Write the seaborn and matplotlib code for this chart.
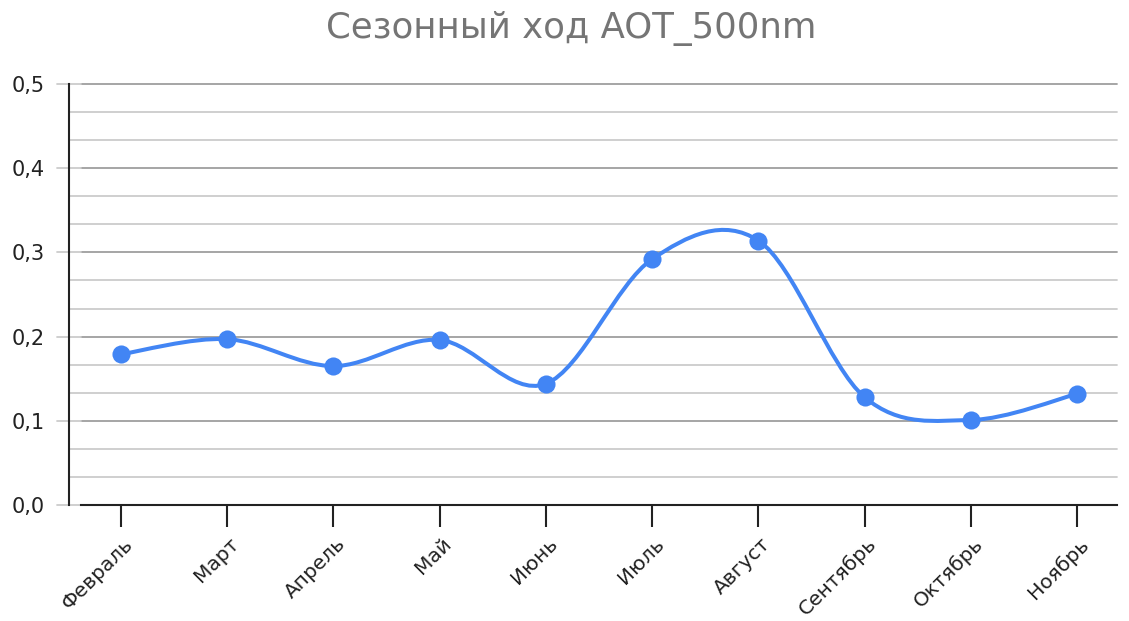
import numpy as np
import matplotlib
matplotlib.use("Agg")
import matplotlib.pyplot as plt
import matplotlib.transforms as mtransforms
from matplotlib.path import Path
from matplotlib.patches import PathPatch
import seaborn as sns
import pandas as pd

months = ["Февраль", "Март", "Апрель", "Май", "Июнь", "Июль", "Август",
          "Сентябрь", "Октябрь", "Ноябрь"]
aot_500 = [0.179, 0.197, 0.165, 0.196, 0.144, 0.292, 0.314, 0.128, 0.101, 0.132]
y_ticks = [0.0, 0.1, 0.2, 0.3, 0.4, 0.5]
y_tick_labels = ["0,0", "0,1", "0,2", "0,3", "0,4", "0,5"]
title = "Сезонный ход AOT_500nm"

sns.set_theme(style="white")
plt.rcParams['font.family'] = ['DejaVu Sans']

W, H, DPI = 1129, 621, 100
PX = 72.0 / DPI  # points per pixel
fig = plt.figure(figsize=(W / DPI, H / DPI), dpi=DPI)
ax_w = 1117 - 81
ax = fig.add_axes([81 / W, (H - 505) / H, ax_w / W, (505 - 84) / H])

df = pd.DataFrame({"month": months, "aot": aot_500})
xs = np.arange(len(months), dtype=float)
ys = np.array(aot_500, dtype=float)
color = "#4285F4"

# smooth curve (Catmull-Rom as cubic Bezier segments through the data points)
verts = [(xs[0], ys[0])]
codes = [Path.MOVETO]
n = len(xs)
for i in range(n - 1):
    p0 = np.array([xs[max(i - 1, 0)], ys[max(i - 1, 0)]])
    p1 = np.array([xs[i], ys[i]])
    p2 = np.array([xs[i + 1], ys[i + 1]])
    p3 = np.array([xs[min(i + 2, n - 1)], ys[min(i + 2, n - 1)]])
    c1 = p1 + (p2 - p0) / 6.0
    c2 = p2 - (p3 - p1) / 6.0
    verts += [tuple(c1), tuple(c2), tuple(p2)]
    codes += [Path.CURVE4] * 3
ax.add_patch(PathPatch(Path(verts, codes), facecolor="none", edgecolor=color,
                       lw=2.9, capstyle="round", joinstyle="round", zorder=3))

sns.scatterplot(data=df, x=xs, y="aot", ax=ax, color=color, s=170,
                edgecolor=color, linewidth=0, zorder=4, legend=False)

ax.set_xlim(-0.375, n - 1 + 0.375)
ax.set_ylim(0, 0.5)

# gridlines (major darker inside plot, light where they extend to the left)
trans = ax.get_yaxis_transform()
lx = -24.0 / ax_w
for v in y_ticks:
    ax.plot([0, 1], [v, v], color="#9e9e9e", lw=1.3, zorder=1, transform=trans,
            clip_on=False)
    ax.plot([lx, 0], [v, v], color="#cccccc", lw=1.3, zorder=1, transform=trans,
            clip_on=False)
minor = [v + k * 0.1 / 3 for v in y_ticks[:-1] for k in (1, 2)]
for v in minor:
    ax.plot([-12.0 / ax_w, 1], [v, v], color="#cccccc", lw=1.3, zorder=1,
            transform=trans, clip_on=False)

ax.set_yticks(y_ticks)
ax.set_yticklabels(y_tick_labels)
ax.tick_params(axis="y", which="major", length=0, labelsize=15,
               pad=24 * PX, labelcolor="#222222", left=False)

ax.set_xticks(xs)
ax.set_xticklabels(months, rotation=45, ha="right", va="center",
                   rotation_mode="anchor")
ax.tick_params(axis="x", which="major", length=22 * PX, width=1.5,
               color="#222222", labelsize=14.5, pad=14 * PX, labelcolor="#222222",
               bottom=True)
offset = mtransforms.ScaledTranslation(9 / DPI, 0, fig.dpi_scale_trans)
for lab in ax.get_xticklabels():
    lab.set_transform(lab.get_transform() + offset)
ax.set_xlabel("")
ax.set_ylabel("")

for s in ["top", "right"]:
    ax.spines[s].set_visible(False)
ax.spines["bottom"].set_color("#222222")
ax.spines["bottom"].set_linewidth(1.5)
ax.spines["bottom"].set_zorder(5)
ax.spines["left"].set_color("#222222")
ax.spines["left"].set_linewidth(1.5)
ax.spines["left"].set_position(("outward", 12 * PX))
ax.spines["left"].set_zorder(5)

fig.text(571 / W, 1 - 28 / H, title, ha="center", va="center", fontsize=25.6,
         color="#757575")

fig.savefig("out.png", dpi=DPI)
